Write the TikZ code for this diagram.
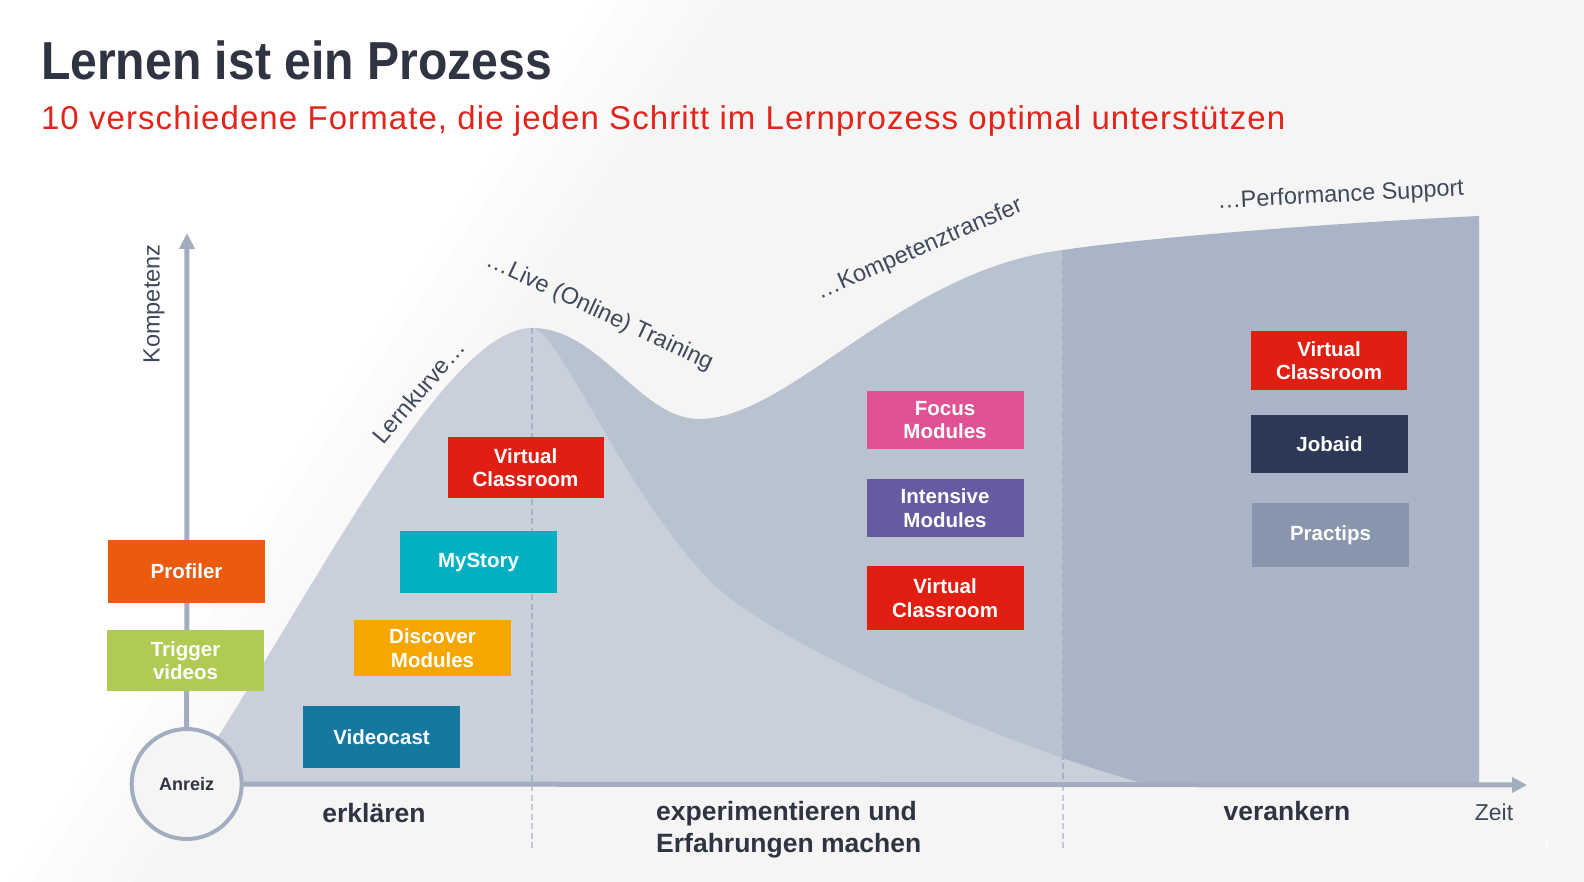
\documentclass[tikz,border=0pt]{standalone}
\usepackage{fontspec}
\setmainfont{Liberation Sans}
\newfontfamily\titlefont[FakeStretch=0.9]{Liberation Sans}
\newfontfamily\subtitlefont[LetterSpace=3.3]{Liberation Sans}
\usetikzlibrary{arrows.meta}

\definecolor{bggray}{HTML}{F5F5F5}
\definecolor{lightlayer}{HTML}{C9D0DB}
\definecolor{midlayer}{HTML}{B9C3D0}
\definecolor{darklayer}{HTML}{A9B5C6}
\definecolor{axisgray}{HTML}{A2AEC0}
\definecolor{dashtop}{HTML}{A7B2C3}
\definecolor{dashlow}{HTML}{C3CAD5}
\definecolor{darktext}{HTML}{2E3441}
\definecolor{curvetext}{HTML}{3E495C}
\definecolor{subred}{HTML}{E3241B}
\definecolor{profilerorange}{HTML}{EA5B0F}
\definecolor{triggergreen}{HTML}{B0CB53}
\definecolor{videocastblue}{HTML}{14789F}
\definecolor{discoveramber}{HTML}{F5A700}
\definecolor{mystoryteal}{HTML}{00B1C1}
\definecolor{virtualred}{HTML}{E01F12}
\definecolor{focuspink}{HTML}{E05294}
\definecolor{intensivepurple}{HTML}{675AA0}
\definecolor{jobaidnavy}{HTML}{2C3855}
\definecolor{practipsgray}{HTML}{8795AD}

\begin{document}
\begin{tikzpicture}[x=1pt,y=-1pt,
        box/.style={minimum width=157pt,inner sep=0pt,align=center,text=white,
            font=\fontsize{20.5}{23.5}\selectfont\bfseries},
        curvelabel/.style={text=curvetext,inner sep=0pt,anchor=base,
            font=\fontsize{23.5}{28}\selectfont},
        phase/.style={text=darktext,inner sep=0pt,
            font=\fontsize{26.5}{32}\selectfont\bfseries},
        axis/.style={draw=axisgray,line width=5pt},
        phaseline/.style={line width=2.5pt,dash pattern=on 6pt off 3.5pt}]
    \useasboundingbox (0,0) rectangle (1584,882);
    \fill[bggray] (0,0) rectangle (1584,882);
    \foreach \i in {8,7,...,0} {
        \pgfmathtruncatemacro\p{\i*12.5}
        \fill[bggray!\p!white] (0,0) -- ({600+20*\i},0) -- (0,{900+30*\i}) -- cycle;
    }

    \coordinate (start) at (186,785);
    \coordinate (peak) at (532,328);
    \coordinate (valley) at (699,419);
    \coordinate (ridge) at (1063,250);
    \coordinate (plateau) at (1479,216);
    \coordinate (tailend) at (1149,785);
    \coordinate (ytip) at (187,233);
    \coordinate (xtip) at (1527,785);
    \coordinate (lowend) at (0,850);

    \fill[midlayer] (peak) .. controls (600,328) and (640,419) .. (valley)
        .. controls (790,419) and (900,270) .. (ridge)
        -- (ridge |- xtip) -- (peak |- xtip) -- cycle;
    \fill[darklayer] (ridge) .. controls (1150,237) and (1350,222) .. (plateau)
        -- (plateau |- xtip) -- (ridge |- xtip) -- cycle;
    \fill[lightlayer] (start) .. controls (300,620) and (440,328) .. (peak)
        .. controls (560,328) and (640,530) .. (732,600)
        .. controls (800,652) and (1000,745) .. (tailend) -- cycle;

    \draw[phaseline,dashtop] (peak) -- (peak |- xtip);
    \draw[phaseline,dashlow] (peak |- xtip) -- (peak |- lowend);
    \draw[phaseline,dashtop] (ridge) -- (ridge |- xtip);
    \draw[phaseline,dashlow] (ridge |- xtip) -- (ridge |- lowend);

    \node[circle,draw=axisgray,line width=4pt,fill=bggray,minimum size=110pt,inner sep=0pt,
        text=darktext,font=\fontsize{18}{20}\selectfont\bfseries] (anreiz) at (186.7,784) {Anreiz};
    \draw[axis,-{Triangle[length=16pt,width=15pt]}] (anreiz.north) -- (ytip);
    \draw[axis,-{Triangle[length=15pt,width=15pt]}] (anreiz.east) -- (xtip);

    \node[box,fill=profilerorange,minimum height=63pt] (profiler) at (186.5,571.5) {Profiler};
    \node[box,fill=triggergreen,minimum height=61pt] (trigger) at (185.5,660.5) {Trigger\\videos};
    \node[box,fill=videocastblue,minimum height=62pt] (videocast) at (381.5,737) {Videocast};
    \node[box,fill=discoveramber,minimum height=56pt] (discover) at (432.5,648) {Discover\\Modules};
    \node[box,fill=mystoryteal,minimum height=62pt] (mystory) at (478.5,562) {MyStory};
    \node[box,fill=virtualred,minimum width=156pt,minimum height=61pt] (vclive) at (525.5,467.5) {Virtual\\Classroom};
    \node[box,fill=focuspink,minimum height=58pt] (focus) at (945,420) {Focus\\Modules};
    \node[box,fill=intensivepurple,minimum height=58pt] (intensive) at (945,508) {Intensive\\Modules};
    \node[box,fill=virtualred,minimum height=64pt] (vctransfer) at (945,598) {Virtual\\Classroom};
    \node[box,fill=virtualred,minimum width=156pt,minimum height=59pt] (vcsupport) at (1329,360.5) {Virtual\\Classroom};
    \node[box,fill=jobaidnavy,minimum height=58pt] (jobaid) at (1329.5,444) {Jobaid};
    \node[box,fill=practipsgray,minimum height=64pt] (practips) at (1330.5,535) {Practips};

    \node[anchor=base west,inner sep=0pt,text=darktext,
        font=\titlefont\bfseries\fontsize{53.5}{60}\selectfont] (title) at (40.8,80) {Lernen ist ein Prozess};
    \node[anchor=base west,inner sep=0pt,text=subred,
        font=\subtitlefont\fontsize{33}{40}\selectfont] (subtitle) at (40.8,129.5)
        {10 verschiedene Formate, die jeden Schritt im Lernprozess optimal unterstützen};

    \node[curvelabel,anchor=center,rotate=90] (kompetenz) at (154,304) {Kompetenz};
    \node[curvelabel,rotate=49.6] (lernkurve) at (425,397) {Lernkurve…};
    \node[curvelabel,rotate=-25] (live) at (597,318) {…Live (Online) Training};
    \node[curvelabel,rotate=23.5] (transfer) at (922,255) {…Kompetenztransfer};
    \node[curvelabel,rotate=3] (support) at (1341,202) {…Performance Support};

    \node[phase,anchor=base] (erklaeren) at (374,822) {erklären};
    \node[phase,anchor=west,align=left] (experimentieren) at (656,829.5) {experimentieren und\\Erfahrungen machen};
    \node[phase,anchor=base] (verankern) at (1287,820) {verankern};
    \node[anchor=base,inner sep=0pt,text=curvetext,font=\fontsize{23}{28}\selectfont] (zeit) at (1494,820) {Zeit};
    \node[inner sep=0pt,text=white,font=\fontsize{12}{14}\selectfont\bfseries] (pagenr) at (1547,843) {1};
\end{tikzpicture}
\end{document}
